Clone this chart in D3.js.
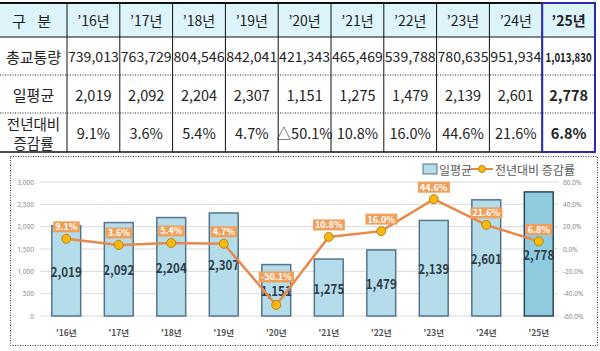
<!DOCTYPE html>
<html>
<head>
<meta charset="utf-8">
<script src="https://cdn.jsdelivr.net/npm/d3@7/dist/d3.min.js"></script>
<style>
  html, body { margin: 0; padding: 0; background: #fff; }
  svg { display: block; font-family: "Noto Sans CJK KR", "Noto Sans", sans-serif; }
</style>
</head>
<body>
<svg id="chart" width="600" height="351"></svg>
<script>
// ── Data ─────────────────────────────────────────────────────────────────────
const years        = ["16", "17", "18", "19", "20", "21", "22", "23", "24", "25"];
const totalTraffic = [739013, 763729, 804546, 842041, 421343, 465469, 539788, 780635, 951934, 1013830];
const dailyAvg     = [2019, 2092, 2204, 2307, 1151, 1275, 1479, 2139, 2601, 2778];
const yoyRate      = [9.1, 3.6, 5.4, 4.7, -50.1, 10.8, 16.0, 44.6, 21.6, 6.8];
const leftTicks    = [0, 500, 1000, 1500, 2000, 2500, 3000];
const rightTicks   = [-60, -40, -20, 0, 20, 40, 60];
const rowLabels    = ["총교통량", "일평균", ["전년대비", "증감률"]];

const svg = d3.select("#chart");
const fmt = d3.format(",");
const last = years.length - 1;

// ── Table ────────────────────────────────────────────────────────────────────
const T = { top: 3, head: 37, rows: [37, 75, 113, 152], firstW: 67, right: 595 };
const col = d3.scaleBand().domain(years).range([T.firstW, T.right]);

const tbl = svg.append("g");
tbl.append("rect").attr("x", 0).attr("y", T.top).attr("width", T.right).attr("height", T.head - T.top)
    .attr("fill", "#dcf4fa");

// header
tbl.append("text").attr("x", T.firstW / 2).attr("y", (T.top + T.head) / 2)
    .attr("text-anchor", "middle").attr("dominant-baseline", "central")
    .attr("font-size", 15).attr("fill", "#222").attr("letter-spacing", 4).text("구 분");
tbl.selectAll(".hd").data(years).join("text")
    .attr("x", d => col(d) + col.bandwidth() / 2).attr("y", (T.top + T.head) / 2)
    .attr("text-anchor", "middle").attr("dominant-baseline", "central")
    .attr("font-size", 14).attr("fill", "#222")
    .attr("font-weight", (d, i) => i === last ? "bold" : "normal")
    .text(d => "’" + d + "년");

// row labels
rowLabels.forEach((lab, r) => {
    const cy = (T.rows[r] + T.rows[r + 1]) / 2;
    const lines = Array.isArray(lab) ? lab : [lab];
    lines.forEach((s, k) => {
        tbl.append("text").attr("x", T.firstW / 2).attr("y", cy + (k - (lines.length - 1) / 2) * 19)
            .attr("text-anchor", "middle").attr("dominant-baseline", "central")
            .attr("font-size", lines.length > 1 ? 14.5 : 15).attr("fill", "#222").text(s);
    });
});

// row values
const rowVals = [
    totalTraffic.map(fmt),
    dailyAvg.map(fmt),
    yoyRate.map(v => (v < 0 ? "△" + Math.abs(v).toFixed(1) : v.toFixed(1)) + "%")
];
rowVals.forEach((vals, r) => {
    const cy = (T.rows[r] + T.rows[r + 1]) / 2;
    tbl.selectAll(".r" + r).data(vals).join("text")
        .attr("x", (d, i) => col(years[i]) + col.bandwidth() / 2).attr("y", cy)
        .attr("text-anchor", "middle").attr("dominant-baseline", "central")
        .attr("font-size", (d, i) => r === 0 ? (i === last ? 12.5 : 14) : 14.5).attr("fill", "#222")
        .attr("font-weight", (d, i) => i === last ? "bold" : "normal")
        .each(function (d, i) {
            if (r === 0) d3.select(this).attr("textLength", i === last ? 46 : 51).attr("lengthAdjust", "spacingAndGlyphs");
        })
        .text(d => d);
});

// grid lines
tbl.append("line").attr("x1", 0).attr("x2", T.right).attr("y1", T.top).attr("y2", T.top)
    .attr("stroke", "#111").attr("stroke-width", 2);
tbl.append("line").attr("x1", 0).attr("x2", T.right).attr("y1", T.head).attr("y2", T.head)
    .attr("stroke", "#111").attr("stroke-width", 1);
[T.rows[1], T.rows[2]].forEach(y => {
    tbl.append("line").attr("x1", 0).attr("x2", T.right).attr("y1", y).attr("y2", y)
        .attr("stroke", "#222").attr("stroke-width", 1).attr("stroke-dasharray", "1,1.5");
});
tbl.append("line").attr("x1", 0).attr("x2", T.right).attr("y1", T.rows[3]).attr("y2", T.rows[3])
    .attr("stroke", "#111").attr("stroke-width", 1.5);
years.forEach(d => {
    tbl.append("line").attr("x1", col(d)).attr("x2", col(d)).attr("y1", T.top).attr("y2", T.rows[3])
        .attr("stroke", "#111").attr("stroke-width", 1);
});
tbl.append("rect").attr("x", col(years[last])).attr("y", T.top)
    .attr("width", col.bandwidth()).attr("height", T.rows[3] - T.top)
    .attr("fill", "none").attr("stroke", "#2a2ab0").attr("stroke-width", 2);

// ── Chart ────────────────────────────────────────────────────────────────────
svg.append("rect").attr("x", 10.5).attr("y", 156.5).attr("width", 587).attr("height", 189)
    .attr("fill", "none").attr("stroke", "#333").attr("stroke-width", 1).attr("stroke-dasharray", "1,1.5");

const x  = d3.scaleBand().domain(years).range([40, 565]).paddingInner(0.45).paddingOuter(0.225);
const yL = d3.scaleLinear().domain([0, 3000]).range([316, 182]);
const yR = d3.scaleLinear().domain([-60, 60]).range([316, 182]);

// gridlines
svg.append("g").selectAll("line").data(leftTicks).join("line")
    .attr("x1", 40).attr("x2", 558).attr("y1", d => yL(d)).attr("y2", d => yL(d))
    .attr("stroke", "#d9d9d9").attr("stroke-width", 1);

// axes
const axL = svg.append("g").attr("transform", "translate(36,0)")
    .call(d3.axisLeft(yL).tickValues(leftTicks).tickSize(0).tickPadding(2).tickFormat(fmt));
const axR = svg.append("g").attr("transform", "translate(561,0)")
    .call(d3.axisRight(yR).tickValues(rightTicks).tickSize(0).tickPadding(2).tickFormat(d => d.toFixed(1) + "%"));
[axL, axR].forEach(a => {
    a.select(".domain").remove();
    a.selectAll("text").attr("font-size", 6.5).attr("fill", "#8a8a8a").attr("font-family", "Noto Sans, sans-serif");
});

// x labels
svg.append("g").selectAll("text").data(years).join("text")
    .attr("x", d => x(d) + x.bandwidth() / 2).attr("y", 332)
    .attr("text-anchor", "middle").attr("dominant-baseline", "central")
    .attr("font-size", 8.5).attr("font-weight", "bold").attr("fill", "#555")
    .text(d => "'" + d + "년");

// bars
svg.append("g").selectAll("rect").data(dailyAvg).join("rect")
    .attr("x", (d, i) => x(years[i])).attr("width", x.bandwidth())
    .attr("y", d => yL(d)).attr("height", d => yL(0) - yL(d))
    .attr("fill", (d, i) => i === last ? "#8fcbdf" : "#b5dceb")
    .attr("stroke", (d, i) => i === last ? "#2f4756" : "#54758a").attr("stroke-width", 1.5);

// bar value labels
svg.append("g").selectAll("text").data(dailyAvg).join("text")
    .attr("x", (d, i) => x(years[i]) + x.bandwidth() / 2)
    .attr("y", d => (yL(d) + yL(0)) / 2)
    .attr("text-anchor", "middle").attr("dominant-baseline", "central")
    .attr("font-size", 13.5).attr("font-weight", "bold").attr("fill", "#2e3c48")
    .attr("textLength", 31).attr("lengthAdjust", "spacingAndGlyphs")
    .text(fmt);

// rate line
const line = d3.line().x((d, i) => x(years[i]) + x.bandwidth() / 2).y(d => yR(d));
svg.append("path").datum(yoyRate).attr("d", line)
    .attr("fill", "none").attr("stroke", "#e8894a").attr("stroke-width", 2.5);
svg.append("g").selectAll("circle").data(yoyRate).join("circle")
    .attr("cx", (d, i) => x(years[i]) + x.bandwidth() / 2).attr("cy", d => yR(d)).attr("r", 4.5)
    .attr("fill", "#f7b90f").attr("stroke", "#b8860b").attr("stroke-width", 1);

// rate labels
const lab = svg.append("g").selectAll("g").data(yoyRate).join("g")
    .attr("transform", (d, i) => `translate(${x(years[i]) + x.bandwidth() / 2},${yR(d) + (d < 0 ? -28 : -12)})`);
lab.append("text")
    .attr("text-anchor", "middle").attr("dominant-baseline", "central")
    .attr("font-size", 9).attr("font-weight", "bold").attr("fill", "#fff")
    .text(d => d.toFixed(1) + "%");
lab.each(function () {
    const g = d3.select(this);
    const bb = g.select("text").node().getBBox();
    g.insert("rect", "text").attr("x", bb.x - 2).attr("y", -5.5).attr("width", bb.width + 4).attr("height", 11)
        .attr("fill", "#f0a05a");
});

// legend
const lg = svg.append("g").attr("transform", "translate(423,169)");
lg.append("rect").attr("x", 0).attr("y", -5).attr("width", 14).attr("height", 10)
    .attr("fill", "#b5dceb").attr("stroke", "#54758a").attr("stroke-width", 1);
lg.append("text").attr("x", 16).attr("y", 0).attr("dominant-baseline", "central")
    .attr("font-size", 12).attr("fill", "#595959").text("일평균");
lg.append("line").attr("x1", 48).attr("x2", 70).attr("y1", 0).attr("y2", 0)
    .attr("stroke", "#e8894a").attr("stroke-width", 2);
lg.append("circle").attr("cx", 59).attr("cy", 0).attr("r", 3.5)
    .attr("fill", "#f7b90f").attr("stroke", "#b8860b").attr("stroke-width", 1);
lg.append("text").attr("x", 72).attr("y", 0).attr("dominant-baseline", "central")
    .attr("font-size", 12).attr("fill", "#595959").text("전년대비 증감률");
</script>
</body>
</html>
